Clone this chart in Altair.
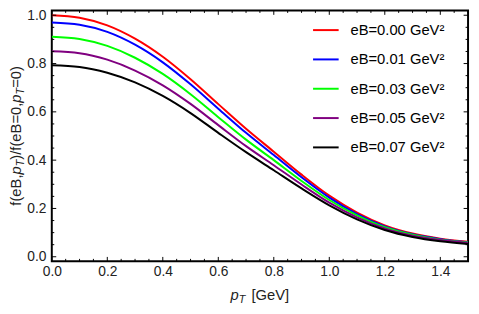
import altair as alt
import pandas as pd

# ---------------- data ----------------
pT = [0.0, 0.1, 0.2, 0.3, 0.4, 0.5, 0.6, 0.7, 0.8, 0.9, 1.0, 1.1, 1.2, 1.3, 1.4, 1.5]

eB_labels = ["eB=0.00 GeV²", "eB=0.01 GeV²", "eB=0.03 GeV²", "eB=0.05 GeV²", "eB=0.07 GeV²"]
eB_colors = ["#ff0000", "#0000ff", "#00ff00", "#800080", "#000000"]

f_eB000 = [1.000, 0.990, 0.958, 0.903, 0.828, 0.735, 0.632, 0.530, 0.435, 0.340, 0.253, 0.183, 0.130, 0.096, 0.075, 0.062]
f_eB001 = [0.970, 0.961, 0.931, 0.878, 0.805, 0.714, 0.613, 0.513, 0.421, 0.329, 0.245, 0.177, 0.126, 0.093, 0.073, 0.060]
f_eB003 = [0.911, 0.902, 0.873, 0.824, 0.757, 0.673, 0.578, 0.485, 0.400, 0.314, 0.235, 0.171, 0.122, 0.091, 0.071, 0.059]
f_eB005 = [0.851, 0.843, 0.816, 0.771, 0.710, 0.633, 0.545, 0.458, 0.379, 0.299, 0.224, 0.163, 0.117, 0.087, 0.069, 0.057]
f_eB007 = [0.793, 0.786, 0.762, 0.722, 0.666, 0.595, 0.513, 0.433, 0.358, 0.283, 0.213, 0.155, 0.111, 0.082, 0.064, 0.053]

x_tick_labels = [0.0, 0.2, 0.4, 0.6, 0.8, 1.0, 1.2, 1.4]
y_tick_labels = [0.0, 0.2, 0.4, 0.6, 0.8, 1.0]
x_minor = [round(0.05 * i, 2) for i in range(0, 31) if round(0.05 * i, 2) not in x_tick_labels]
y_minor = [round(0.05 * i, 2) for i in range(0, 21) if round(0.05 * i, 2) not in y_tick_labels]

series = [f_eB000, f_eB001, f_eB003, f_eB005, f_eB007]
rows = []
for lab, vals in zip(eB_labels, series):
    for p, v in zip(pT, vals):
        rows.append({"pT": p, "f": v, "eB": lab})
df = pd.DataFrame(rows)

# ---------------- layout ----------------
W, H = 423, 255
FONT = "Liberation Sans"
TXT = "#222222"
xscale = alt.Scale(domain=[0, 1.5], nice=False, zero=False)
yscale = alt.Scale(domain=[-0.019, 1.02], nice=False, zero=False)

x_axis = alt.Axis(values=x_tick_labels, format=".1f", title=None, ticks=False, tickSize=0,
                  domain=False, grid=False, labelPadding=3, labelFontSize=14, labelFont=FONT,
                  labelColor=TXT, labelFlush=False, labelOverlap=False)
y_axis = alt.Axis(values=y_tick_labels, format=".1f", title=None, ticks=False, tickSize=0,
                  domain=False, grid=False, labelPadding=6, labelFontSize=14, labelFont=FONT,
                  labelColor=TXT, labelFlush=False, labelOverlap=False)

lines = alt.Chart(df).mark_line(strokeWidth=2, interpolate="monotone", clip=True).encode(
    x=alt.X("pT:Q", scale=xscale, axis=x_axis),
    y=alt.Y("f:Q", scale=yscale, axis=y_axis),
    color=alt.Color("eB:N", scale=alt.Scale(domain=eB_labels, range=eB_colors),
                    legend=alt.Legend(orient="none", legendX=264.5, legendY=6, direction="vertical",
                                      title=None, symbolType="stroke", symbolSize=676,
                                      symbolStrokeWidth=2, labelFontSize=15, labelFont=FONT,
                                      labelColor="black", labelOffset=11, rowPadding=7.8, padding=0,
                                      labelLimit=300)),
)


def xticks(vals, length, side):
    d = pd.DataFrame({"pT": vals})
    if side == "bottom":
        yv, y2v = H, H - length
    else:
        yv, y2v = 0, length
    return alt.Chart(d).mark_rule(color="black", strokeWidth=1).encode(
        x=alt.X("pT:Q", scale=xscale, axis=x_axis), y=alt.value(yv), y2=alt.value(y2v))


def yticks(vals, length, side):
    d = pd.DataFrame({"f": vals})
    if side == "left":
        xv, x2v = 0, length
    else:
        xv, x2v = W, W - length
    return alt.Chart(d).mark_rule(color="black", strokeWidth=1).encode(
        y=alt.Y("f:Q", scale=yscale, axis=y_axis), x=alt.value(xv), x2=alt.value(x2v))


tick_layers = [
    xticks(x_tick_labels, 4.5, "bottom"), xticks(x_minor, 2.5, "bottom"),
    xticks(x_tick_labels, 4.5, "top"), xticks(x_minor, 2.5, "top"),
    yticks(y_tick_labels, 4.5, "left"), yticks(y_minor, 2.5, "left"),
    yticks(y_tick_labels, 4.5, "right"), yticks(y_minor, 2.5, "right"),
]

# ---------------- titles built from pieces (italic p with subscript T) ----------------
ADV = {"f": 278, "(": 333, "e": 556, "B": 667, ",": 278, "p": 556, "T": 611, ")": 333, "/": 278,
       "=": 584, "0": 556, " ": 278, "[": 278, "G": 778, "V": 667, "]": 278}


def tw(s, size):
    return sum(ADV[c] for c in s) / 1000.0 * size


TS, SS = 15, 11
one = pd.DataFrame({"a": [0]})
title_layers = []

# x title: p_T [GeV]   (pieces: text, size, style, baseline shift, extra gap before)
x_pieces = [("p", TS, "italic", 0, 0), ("T", SS, "italic", 3.5, 0), ("[GeV]", TS, "normal", 0, tw(" ", TS) + 2)]
total = sum(tw(s, sz) + g for s, sz, _, _, g in x_pieces)
cx = W / 2 - total / 2
for s, sz, st, dy, g in x_pieces:
    cx += g
    title_layers.append(alt.Chart(one).mark_text(
        text=s, fontSize=sz, fontStyle=st, font=FONT, color=TXT, align="left",
        baseline="alphabetic").encode(x=alt.value(cx), y=alt.value(H + 39 + dy)))
    cx += tw(s, sz)

# y title: f(eB,p_T)/f(eB=0,p_T=0)
y_pieces = [("f(eB,", TS, "normal", 0), ("p", TS, "italic", 0), ("T", SS, "italic", 3.5),
            (")/f(eB=0,", TS, "normal", 0), ("p", TS, "italic", 0), ("T", SS, "italic", 3.5),
            ("=0)", TS, "normal", 0)]
total = sum(tw(s, sz) for s, sz, _, _ in y_pieces)
cy = H / 2 + total / 2
for s, sz, st, dx in y_pieces:
    title_layers.append(alt.Chart(one).mark_text(
        text=s, fontSize=sz, fontStyle=st, font=FONT, color=TXT, align="left",
        baseline="alphabetic", angle=270).encode(x=alt.value(-31.5 + dx), y=alt.value(cy)))
    cy -= tw(s, sz)

chart = alt.layer(lines, *tick_layers, *title_layers).properties(
    width=W, height=H,
    autosize=alt.AutoSizeParams(type="none"),
    padding={"left": 44.5, "top": 0, "right": 3, "bottom": 48},
    background="white",
).configure_view(stroke="black", strokeWidth=2)

chart.save("out.html", embed_options={"renderer": "svg", "actions": False})
